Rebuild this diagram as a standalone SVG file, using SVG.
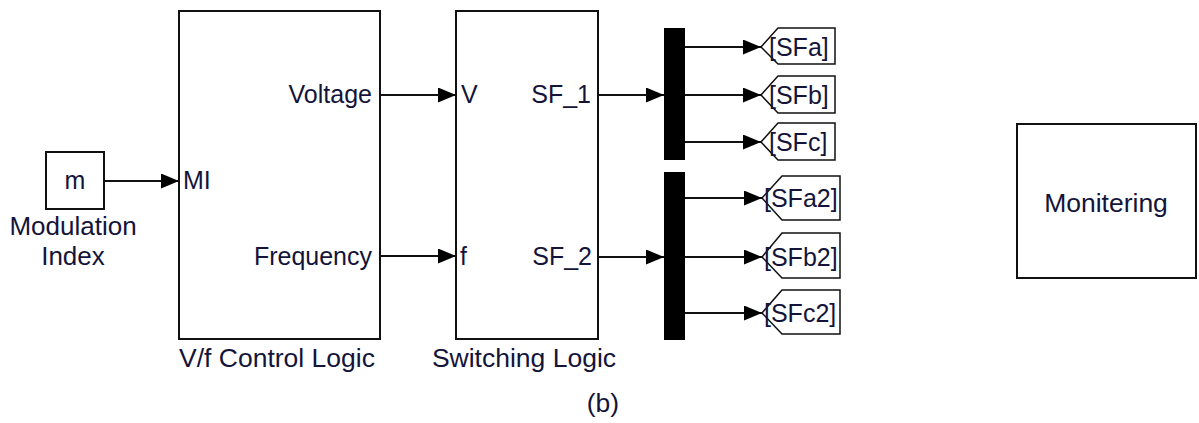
<svg xmlns="http://www.w3.org/2000/svg" width="1199" height="423" viewBox="0 0 1199 423">
<style>
.blk{fill:#fff;stroke:#111;stroke-width:2}
.bus{fill:#000}
.tag{fill:#fff;stroke:#111;stroke-width:1.5}
.t{font-family:"Liberation Sans",Arial,sans-serif;font-size:25px;fill:#14143a}
.c{font-size:26.5px}
.ln{stroke:#111;stroke-width:2;fill:none;marker-end:url(#arr)}
</style>
<defs>
<marker id="arr" markerUnits="userSpaceOnUse" markerWidth="18" markerHeight="15" refX="18" refY="7.5" orient="auto">
<path d="M0,0 L18,7.5 L0,15 z" fill="#000"/>
</marker>
</defs>
<rect width="1199" height="423" fill="#fff"/>
<g id="connectors">
<path class="ln" d="M104,181 H179"/>
<path class="ln" d="M380,95 H456"/>
<path class="ln" d="M380,256 H456"/>
<path class="ln" d="M598,95 H664"/>
<path class="ln" d="M598,257 H664"/>
<path class="ln" d="M685,47 H761"/>
<path class="ln" d="M685,95 H761"/>
<path class="ln" d="M685,142 H761"/>
<path class="ln" d="M685,198 H762"/>
<path class="ln" d="M685,257 H762"/>
<path class="ln" d="M685,313 H762"/>
</g>
<g id="modulation-index">
<rect class="blk" x="46" y="152" width="58" height="57"/>
<text class="t" x="75" y="189" text-anchor="middle">m</text>
<text class="t" x="73" y="235" text-anchor="middle" style="font-size:26px">Modulation</text>
<text class="t" x="73" y="265" text-anchor="middle" style="font-size:26px">Index</text>
</g>
<g id="vf-control-logic">
<rect class="blk" x="179" y="11" width="201" height="328"/>
<text class="t" x="183" y="189">MI</text>
<text class="t" x="372" y="103" text-anchor="end">Voltage</text>
<text class="t" x="372" y="265" text-anchor="end">Frequency</text>
<text class="t c" x="277" y="367" text-anchor="middle">V/f Control Logic</text>
</g>
<g id="switching-logic">
<rect class="blk" x="456" y="11" width="142" height="328"/>
<text class="t" x="461" y="103">V</text>
<text class="t" x="460" y="265">f</text>
<text class="t" x="591" y="103" text-anchor="end">SF_1</text>
<text class="t" x="592" y="265" text-anchor="end">SF_2</text>
<text class="t c" x="524" y="367" text-anchor="middle">Switching Logic</text>
</g>
<g id="demux1"><rect class="bus" x="664" y="28" width="21" height="132"/></g>
<g id="demux2"><rect class="bus" x="664" y="172" width="21" height="168"/></g>
<g id="goto-SFa">
<polygon class="tag" points="761,47 778,28 835,28 835,64 778,64"/>
<text class="t" x="769" y="56">[SFa]</text>
</g>
<g id="goto-SFb">
<polygon class="tag" points="761,95 778,76 835,76 835,113 778,113"/>
<text class="t" x="769" y="104">[SFb]</text>
</g>
<g id="goto-SFc">
<polygon class="tag" points="761,142 778,123 835,123 835,160 778,160"/>
<text class="t" x="769" y="151">[SFc]</text>
</g>
<g id="goto-SFa2">
<polygon class="tag" points="762,198 782,176 840,176 840,220 782,220"/>
<text class="t" x="764" y="207">[SFa2]</text>
</g>
<g id="goto-SFb2">
<polygon class="tag" points="762,257 782,233 840,233 840,278 782,278"/>
<text class="t" x="764" y="266">[SFb2]</text>
</g>
<g id="goto-SFc2">
<polygon class="tag" points="762,313 782,290 840,290 840,334 782,334"/>
<text class="t" x="764" y="322">[SFc2]</text>
</g>
<g id="monitering">
<rect class="blk" x="1017" y="124" width="179" height="154"/>
<text class="t c" x="1106" y="212" text-anchor="middle">Monitering</text>
</g>
<text class="t c" x="603" y="412" text-anchor="middle">(b)</text>
</svg>
